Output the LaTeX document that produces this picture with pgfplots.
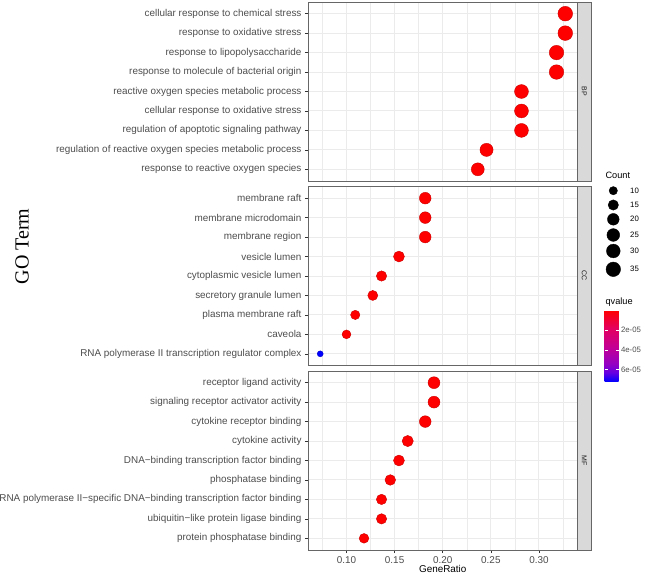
\documentclass[border=0pt]{standalone}
\usepackage{fontspec}
\setmainfont{Liberation Sans}
\newfontfamily\goserif{Liberation Serif}
\usepackage{pgfplots}
\pgfplotsset{compat=1.18}
\usepackage{pgfplotstable}

\definecolor{grey92}{HTML}{EBEBEB}
\definecolor{grey85}{HTML}{D9D9D9}
\definecolor{grey30}{HTML}{4D4D4D}
\definecolor{grey20}{HTML}{333333}
\definecolor{grey10}{HTML}{1A1A1A}

\newcommand\ticksize{\fontsize{9.9}{11}\selectfont}
\newcommand\legsize{\fontsize{7.8}{9}\selectfont}

% GeneRatio = Count/110, qvalue
\pgfplotstableread{
y x count q
9 0.3273 36 1e-7
8 0.3273 36 1e-7
7 0.3182 35 1e-7
6 0.3182 35 1e-7
5 0.2818 31 1e-7
4 0.2818 31 1e-7
3 0.2818 31 1e-7
2 0.2455 27 1e-7
1 0.2364 26 1e-7
}\bpdata

\pgfplotstableread{
y x count q
9 0.1818 20 1e-7
8 0.1818 20 1e-7
7 0.1818 20 1e-7
6 0.1545 17 1e-7
5 0.1364 15 1e-7
4 0.1273 14 1e-7
3 0.1091 12 1e-7
2 0.1000 11 1e-7
1 0.0727 8 7.2e-5
}\ccdata

\pgfplotstableread{
y x count q
9 0.1909 21 1e-7
8 0.1909 21 1e-7
7 0.1818 20 1e-7
6 0.1636 18 1e-7
5 0.1545 17 1e-7
4 0.1455 16 1e-7
3 0.1364 15 1e-7
2 0.1364 15 1e-7
1 0.1182 13 1e-7
}\mfdata

% size legend, positions in pt from the top left corner
\pgfplotstableread{
x y count
613.3 190.7 10
613.3 205.0 15
613.3 219.3 20
613.3 235.0 25
613.3 251.0 30
613.3 269.3 35
}\countleg

\pgfplotsset{
  % colour scale runs on -qvalue, so that small q (red) sits at the top of the bar
  colormap={qv}{rgb255(0cm)=(0,0,255) rgb255(0.5cm)=(100,0,225) rgb255(1cm)=(150,0,195) rgb255(2cm)=(198,0,144) rgb255(3cm)=(228,0,94) rgb255(4cm)=(255,0,0)},
  colormap={blk}{color(0cm)=(black) color(1cm)=(black)},
  panel/.style={
    scale only axis, width=269.5pt, height=179pt,
    xmin=0.06, xmax=0.34, ymin=0.4, ymax=9.6,
    xtick={0.1,0.15,0.2,0.25,0.3},
    minor xtick={0.075,0.125,0.175,0.225,0.275,0.325},
    ytick={1,...,9},
    grid=both,
    major grid style={grey92, line width=1pt},
    minor grid style={grey92, line width=0.5pt},
    minor tick length=0pt,
    major tick length=3pt,
    tick align=outside, xtick pos=bottom, ytick pos=left,
    tick style={grey20, line width=0.5pt},
    axis line style={grey20!75, line width=0.9pt},
    yticklabel style={font=\ticksize, text=grey30},
    xticklabel style={font=\ticksize, text=grey30},
    /pgf/number format/assume math mode=true,
    xticklabel={\pgfmathprintnumber[fixed, fixed zerofill, precision=2]{\tick}},
    point meta min=-7.2e-5, point meta max=0,
    colormap name=qv,
    clip=false,
  },
  dots/.style={
    scatter, only marks, mark=*, scatter src=explicit,
    visualization depends on={\thisrow{count}\as\cnt},
    scatter/@pre marker code/.append style={/tikz/mark size={3+0.82*sqrt(\cnt-8)}},
  },
}

\begin{document}
\begin{tikzpicture}
\useasboundingbox (0,0) rectangle (646pt,-575pt);

\begin{axis}[panel, at={(308pt,-2pt)}, anchor=north west,
  xmajorticks=false, xticklabels={},
  yticklabels={response to reactive oxygen species, regulation of reactive oxygen species metabolic process, regulation of apoptotic signaling pathway, cellular response to oxidative stress, reactive oxygen species metabolic process, response to molecule of bacterial origin, response to lipopolysaccharide, response to oxidative stress, cellular response to chemical stress}]
\addplot[dots] table[x=x, y=y, meta expr=-\thisrow{q}] {\bpdata};
\end{axis}

\begin{axis}[panel, at={(308pt,-186.5pt)}, anchor=north west,
  xmajorticks=false, xticklabels={},
  yticklabels={RNA polymerase II transcription regulator complex, caveola, plasma membrane raft, secretory granule lumen, cytoplasmic vesicle lumen, vesicle lumen, membrane region, membrane microdomain, membrane raft},
  colorbar,
  colorbar style={at={(parent axis.north east)}, anchor=north west,
    xshift=18.5pt, yshift=-123.5pt,
    scale only axis, width=14pt, height=71.7pt,
    ytick={-6e-5,-4e-5,-2e-5}, yticklabels={6e-05,4e-05,2e-05},
    scaled y ticks=false,
    ytick pos=both, yticklabel pos=right, tick align=inside,
    major tick length=3pt, minor tick length=0pt,
    major tick style={white, line width=0.6pt},
    axis line style={draw=none},
    yticklabel style={font=\legsize, text=grey30, xshift=-1pt}}]
\addplot[dots] table[x=x, y=y, meta expr=-\thisrow{q}] {\ccdata};
\end{axis}

\begin{axis}[panel, at={(308pt,-371pt)}, anchor=north west,
  yticklabels={protein phosphatase binding, ubiquitin−like protein ligase binding, RNA polymerase II−specific DNA−binding transcription factor binding, phosphatase binding, DNA−binding transcription factor binding, cytokine activity, cytokine receptor binding, signaling receptor activator activity, receptor ligand activity}]
\addplot[dots] table[x=x, y=y, meta expr=-\thisrow{q}] {\mfdata};
\end{axis}

% size legend
\begin{axis}[x=1pt, y=1pt, y dir=reverse, xmin=580, xmax=646, ymin=160, ymax=290,
  hide axis, clip=false, at={(580pt,-290pt)}, anchor=south west,
  colormap name=blk, /pgf/number format/assume math mode=true]
\addplot[dots] table[x=x, y=y, meta=count] {\countleg};
\addplot[draw=none, mark=none, point meta=explicit, nodes near coords,
  nodes near coords style={anchor=west, xshift=13.4pt, font=\legsize, text=black}]
  table[x=x, y=y, meta=count] {\countleg};
\end{axis}

% facet strips
\filldraw[fill=grey85, draw=grey20!75, line width=0.9pt] (577.5pt,-2pt) rectangle (591pt,-181pt);
\filldraw[fill=grey85, draw=grey20!75, line width=0.9pt] (577.5pt,-186.5pt) rectangle (591pt,-365.5pt);
\filldraw[fill=grey85, draw=grey20!75, line width=0.9pt] (577.5pt,-371pt) rectangle (591pt,-550pt);
\node[rotate=-90, font=\fontsize{7}{8}\selectfont, text=grey10] at (584.25pt,-91.5pt) {BP};
\node[rotate=-90, font=\fontsize{7}{8}\selectfont, text=grey10] at (584.25pt,-276pt) {CC};
\node[rotate=-90, font=\fontsize{7}{8}\selectfont, text=grey10] at (584.25pt,-460.5pt) {MF};

% titles
\node[font=\ticksize] at (442.75pt,-569pt) {GeneRatio};
\node[rotate=90, font=\goserif\fontsize{20}{24}\selectfont] at (22pt,-246.5pt) {GO Term};
\node[anchor=west, font=\fontsize{9.2}{11}\selectfont] at (602pt,-175pt) {Count};
\node[anchor=west, font=\fontsize{9.2}{11}\selectfont] at (602pt,-302pt) {qvalue};
\end{tikzpicture}
\end{document}
